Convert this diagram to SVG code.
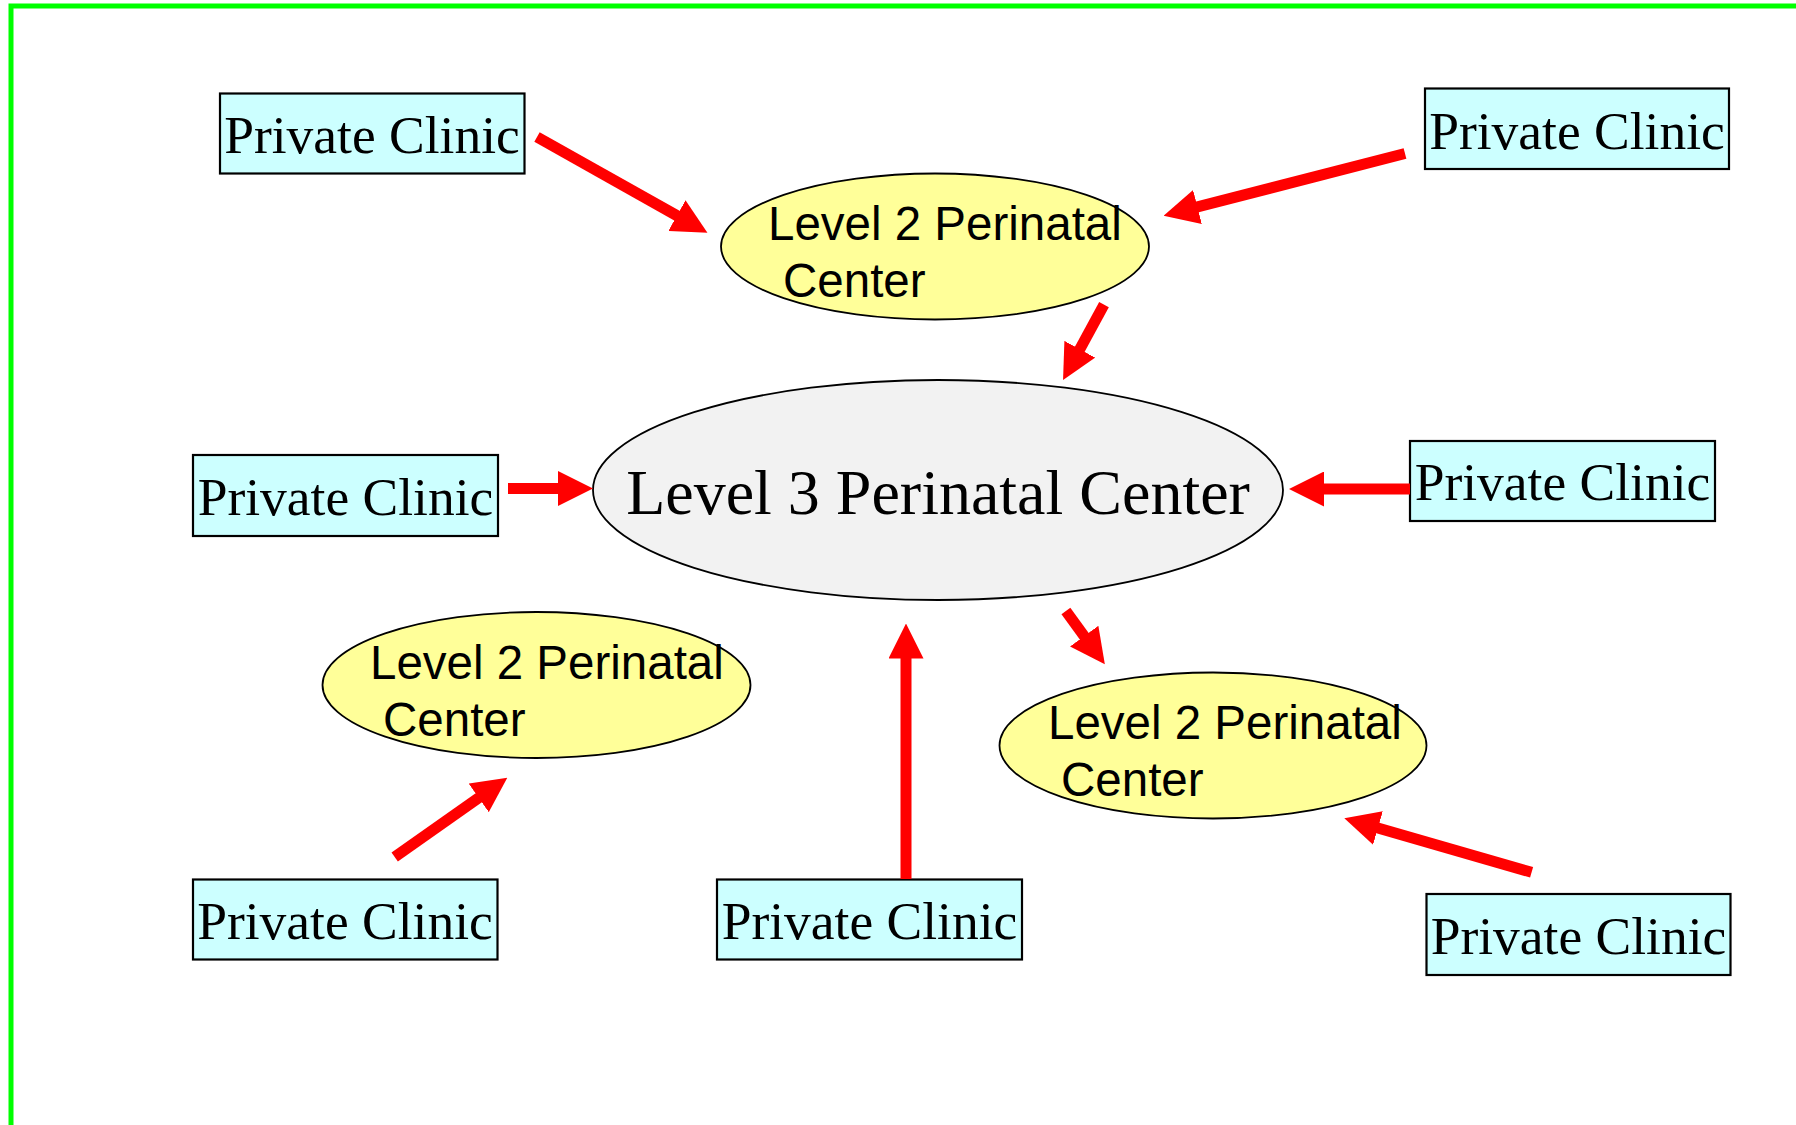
<svg xmlns="http://www.w3.org/2000/svg" width="1796" height="1125" viewBox="0 0 1796 1125">
<style>
.clinic rect{fill:#CCFFFF;stroke:#000;stroke-width:2.2}
.clinic text{font-family:"Liberation Serif","Times New Roman",serif;font-size:53.5px;fill:#000;text-anchor:middle}
.l2 ellipse{fill:#FFFF99;stroke:#000;stroke-width:1.8}
.l2 text{font-family:"Liberation Sans",Arial,sans-serif;font-size:47.5px;fill:#000}
.l3 ellipse{fill:#F2F2F2;stroke:#000;stroke-width:1.8}
.l3 text{font-family:"Liberation Serif","Times New Roman",serif;font-size:64px;fill:#000;text-anchor:middle}
.conn line{stroke:#FF0000;stroke-width:11;fill:none;marker-end:url(#ah)}
</style>
<defs>
<marker id="ah" markerUnits="userSpaceOnUse" markerWidth="35" markerHeight="35" viewBox="0 0 35 35" refX="1" refY="17.5" orient="auto">
<path d="M0,0 L35,17.5 L0,35 z" fill="#FF0000"/>
</marker>
</defs>
<rect x="0" y="0" width="1796" height="1125" fill="#FFFFFF"/>
<rect x="11" y="6" width="1900" height="1300" fill="none" stroke="#00FF00" stroke-width="5"/>

<g id="level3" class="l3">
<ellipse cx="938" cy="490" rx="345" ry="110"/>
<text x="938" y="514">Level 3 Perinatal Center</text>
</g>
<g id="level2-top" class="l2">
<ellipse cx="935" cy="246.5" rx="214" ry="73"/>
<text x="768" y="240">Level 2 Perinatal</text>
<text x="783" y="297">Center</text>
</g>
<g id="level2-left" class="l2">
<ellipse cx="536.5" cy="685" rx="214" ry="73"/>
<text x="370" y="679">Level 2 Perinatal</text>
<text x="383" y="736">Center</text>
</g>
<g id="level2-right" class="l2">
<ellipse cx="1213" cy="745.5" rx="213.5" ry="73"/>
<text x="1048" y="738.5">Level 2 Perinatal</text>
<text x="1061" y="796">Center</text>
</g>

<g id="clinic-tl" class="clinic"><rect x="220" y="93.5" width="304.5" height="80"/><text x="372" y="153">Private Clinic</text></g>
<g id="clinic-tr" class="clinic"><rect x="1425" y="88.5" width="304" height="80.5"/><text x="1577" y="149">Private Clinic</text></g>
<g id="clinic-ml" class="clinic"><rect x="193" y="455" width="305" height="81"/><text x="345.5" y="515">Private Clinic</text></g>
<g id="clinic-mr" class="clinic"><rect x="1410" y="441" width="305" height="80"/><text x="1562.5" y="500">Private Clinic</text></g>
<g id="clinic-bl" class="clinic"><rect x="193" y="879.5" width="304.5" height="80"/><text x="345" y="938.5">Private Clinic</text></g>
<g id="clinic-bm" class="clinic"><rect x="717" y="879.5" width="305" height="80"/><text x="869.5" y="938.5">Private Clinic</text></g>
<g id="clinic-br" class="clinic"><rect x="1426.5" y="894" width="304" height="81"/><text x="1578.5" y="953.5">Private Clinic</text></g>

<g id="connectors" class="conn">
<line x1="537" y1="137" x2="677.8" y2="216.1"/>
<line x1="1405" y1="153.5" x2="1196.5" y2="207.2"/>
<line x1="1104" y1="304.7" x2="1079.3" y2="350.1"/>
<line x1="508" y1="488.5" x2="559" y2="488.5"/>
<line x1="1410" y1="489" x2="1323" y2="489"/>
<line x1="906" y1="879" x2="906" y2="657.5"/>
<line x1="394.7" y1="857" x2="479.5" y2="797.3"/>
<line x1="1065.9" y1="611" x2="1084.8" y2="636.9"/>
<line x1="1531.6" y1="872.3" x2="1377" y2="827.7"/>
</g>
</svg>
